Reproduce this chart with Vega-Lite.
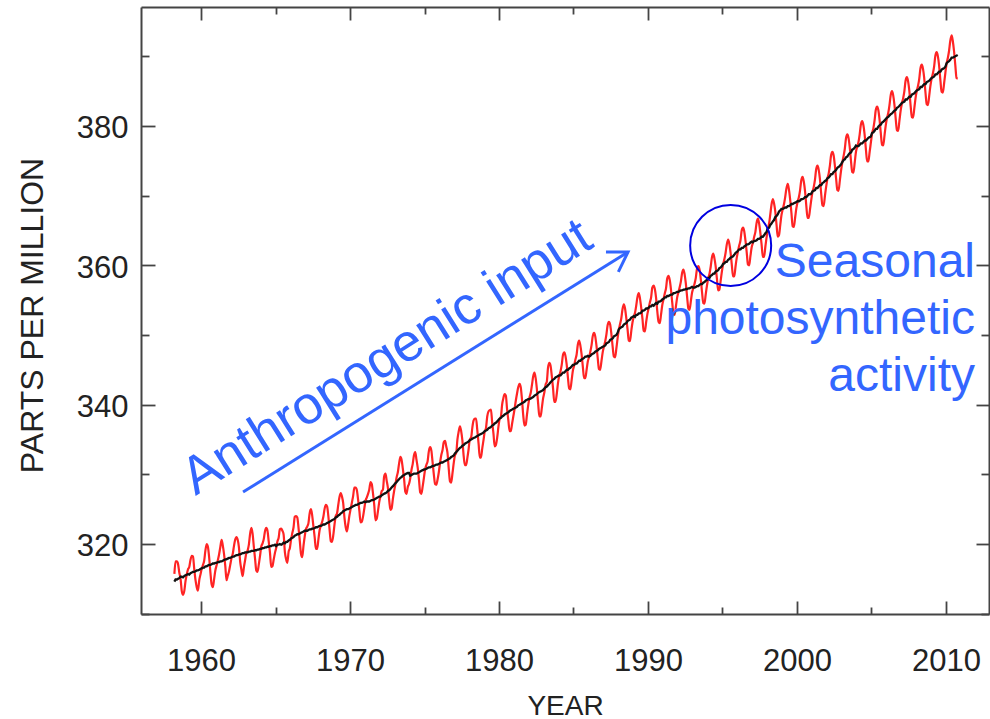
{
"$schema": "https://vega.github.io/schema/vega-lite/v6.json",
"width": 848, "height": 607,
"autosize": {"type": "none"},
"padding": {"left": 141, "top": 7, "right": 1, "bottom": 105},
"background": "white",
"config": {"font": "Liberation Sans", "view": {"stroke": null}, "axis": {"grid": false}},
"datasets": {
"co2": [
{"t":1958.21,"v":315.7,"d":314.6},{"t":1958.29,"v":317.5,"d":314.9},{"t":1958.38,"v":317.5,"d":314.9},{"t":1958.46,"v":317.1,"d":315.0},{"t":1958.54,"v":315.9,"d":315.1},{"t":1958.63,"v":314.9,"d":315.3},{"t":1958.71,"v":313.2,"d":315.3},{"t":1958.79,"v":312.7,"d":315.2},{"t":1958.88,"v":313.3,"d":315.4},{"t":1958.96,"v":314.7,"d":315.5},
{"t":1959.04,"v":315.6,"d":315.6},{"t":1959.13,"v":316.4,"d":315.7},{"t":1959.21,"v":316.7,"d":315.6},{"t":1959.29,"v":317.7,"d":315.8},{"t":1959.38,"v":318.3,"d":315.9},{"t":1959.46,"v":318.2,"d":316.0},{"t":1959.54,"v":316.5,"d":316.0},{"t":1959.63,"v":314.8,"d":316.1},{"t":1959.71,"v":313.8,"d":316.2},{"t":1959.79,"v":313.3,"d":316.2},{"t":1959.88,"v":314.8,"d":316.3},{"t":1959.96,"v":315.6,"d":316.4},
{"t":1960.04,"v":316.4,"d":316.5},{"t":1960.13,"v":317.0,"d":316.6},{"t":1960.21,"v":317.6,"d":316.6},{"t":1960.29,"v":319.0,"d":316.8},{"t":1960.38,"v":320.0,"d":316.8},{"t":1960.46,"v":319.6,"d":316.9},{"t":1960.54,"v":318.2,"d":317.0},{"t":1960.63,"v":315.9,"d":317.0},{"t":1960.71,"v":314.2,"d":317.1},{"t":1960.79,"v":313.8,"d":317.2},{"t":1960.88,"v":315.0,"d":317.2},{"t":1960.96,"v":316.2,"d":317.3},
{"t":1961.04,"v":316.9,"d":317.3},{"t":1961.13,"v":317.7,"d":317.4},{"t":1961.21,"v":318.5,"d":317.4},{"t":1961.29,"v":319.5,"d":317.5},{"t":1961.38,"v":320.6,"d":317.5},{"t":1961.46,"v":319.8,"d":317.6},{"t":1961.54,"v":318.6,"d":317.7},{"t":1961.63,"v":316.8,"d":317.8},{"t":1961.71,"v":314.8,"d":317.8},{"t":1961.79,"v":315.4,"d":317.9},{"t":1961.88,"v":316.1,"d":318.0},{"t":1961.96,"v":317.0,"d":318.0},
{"t":1962.04,"v":317.9,"d":318.1},{"t":1962.13,"v":318.6,"d":318.2},{"t":1962.21,"v":319.7,"d":318.2},{"t":1962.29,"v":320.6,"d":318.3},{"t":1962.38,"v":321.0,"d":318.4},{"t":1962.46,"v":320.6,"d":318.4},{"t":1962.54,"v":319.6,"d":318.5},{"t":1962.63,"v":317.4,"d":318.5},{"t":1962.71,"v":316.3,"d":318.6},{"t":1962.79,"v":315.4,"d":318.7},{"t":1962.88,"v":316.7,"d":318.7},{"t":1962.96,"v":317.7,"d":318.8},
{"t":1963.04,"v":318.7,"d":318.8},{"t":1963.13,"v":319.1,"d":318.8},{"t":1963.21,"v":319.9,"d":318.9},{"t":1963.29,"v":321.4,"d":318.9},{"t":1963.38,"v":322.3,"d":319.0},{"t":1963.46,"v":321.5,"d":319.0},{"t":1963.54,"v":319.7,"d":319.0},{"t":1963.63,"v":317.8,"d":319.1},{"t":1963.71,"v":316.2,"d":319.1},{"t":1963.79,"v":316.0,"d":319.2},{"t":1963.88,"v":317.1,"d":319.2},{"t":1963.96,"v":318.3,"d":319.3},
{"t":1964.04,"v":319.6,"d":319.3},{"t":1964.13,"v":320.1,"d":319.4},{"t":1964.21,"v":320.7,"d":319.4},{"t":1964.29,"v":321.8,"d":319.5},{"t":1964.38,"v":322.3,"d":319.5},{"t":1964.46,"v":321.9,"d":319.6},{"t":1964.54,"v":320.4,"d":319.6},{"t":1964.63,"v":318.7,"d":319.7},{"t":1964.71,"v":316.7,"d":319.7},{"t":1964.79,"v":316.8,"d":319.8},{"t":1964.88,"v":317.8,"d":319.8},{"t":1964.96,"v":318.7,"d":319.9},
{"t":1965.04,"v":319.4,"d":319.7},{"t":1965.13,"v":320.4,"d":319.9},{"t":1965.21,"v":320.9,"d":319.9},{"t":1965.29,"v":322.1,"d":320.0},{"t":1965.38,"v":322.2,"d":319.9},{"t":1965.46,"v":321.9,"d":320.0},{"t":1965.54,"v":321.4,"d":320.2},{"t":1965.63,"v":318.8,"d":320.1},{"t":1965.71,"v":317.8,"d":320.3},{"t":1965.79,"v":317.3,"d":320.3},{"t":1965.88,"v":318.9,"d":320.5},{"t":1965.96,"v":319.4,"d":320.6},
{"t":1966.04,"v":320.6,"d":320.8},{"t":1966.13,"v":321.6,"d":320.9},{"t":1966.21,"v":322.4,"d":321.0},{"t":1966.29,"v":323.9,"d":321.2},{"t":1966.38,"v":324.0,"d":321.3},{"t":1966.46,"v":323.8,"d":321.4},{"t":1966.54,"v":322.4,"d":321.4},{"t":1966.63,"v":320.4,"d":321.5},{"t":1966.71,"v":318.6,"d":321.6},{"t":1966.79,"v":318.1,"d":321.7},{"t":1966.88,"v":319.8,"d":321.8},{"t":1966.96,"v":321.1,"d":321.9},
{"t":1967.04,"v":322.1,"d":321.9},{"t":1967.13,"v":322.5,"d":321.9},{"t":1967.21,"v":323.0,"d":322.0},{"t":1967.29,"v":324.4,"d":322.1},{"t":1967.38,"v":325.0,"d":322.1},{"t":1967.46,"v":324.1,"d":322.2},{"t":1967.54,"v":322.6,"d":322.2},{"t":1967.63,"v":320.9,"d":322.3},{"t":1967.71,"v":319.3,"d":322.4},{"t":1967.79,"v":319.3,"d":322.4},{"t":1967.88,"v":320.7,"d":322.5},{"t":1967.96,"v":322.0,"d":322.6},
{"t":1968.04,"v":322.6,"d":322.6},{"t":1968.13,"v":323.2,"d":322.7},{"t":1968.21,"v":323.9,"d":322.8},{"t":1968.29,"v":325.0,"d":322.8},{"t":1968.38,"v":325.6,"d":322.9},{"t":1968.46,"v":325.4,"d":323.0},{"t":1968.54,"v":324.1,"d":323.1},{"t":1968.63,"v":322.0,"d":323.2},{"t":1968.71,"v":320.4,"d":323.3},{"t":1968.79,"v":320.3,"d":323.4},{"t":1968.88,"v":321.3,"d":323.5},{"t":1968.96,"v":322.8,"d":323.6},
{"t":1969.04,"v":324.0,"d":323.8},{"t":1969.13,"v":324.4,"d":323.9},{"t":1969.21,"v":325.6,"d":324.1},{"t":1969.29,"v":326.7,"d":324.2},{"t":1969.38,"v":327.3,"d":324.4},{"t":1969.46,"v":326.8,"d":324.5},{"t":1969.54,"v":325.9,"d":324.7},{"t":1969.63,"v":323.7,"d":324.8},{"t":1969.71,"v":322.4,"d":324.9},{"t":1969.79,"v":321.8,"d":325.0},{"t":1969.88,"v":322.9,"d":325.0},{"t":1969.96,"v":324.1,"d":325.1},
{"t":1970.04,"v":325.0,"d":325.2},{"t":1970.13,"v":326.0,"d":325.3},{"t":1970.21,"v":326.9,"d":325.4},{"t":1970.29,"v":328.1,"d":325.5},{"t":1970.38,"v":328.1,"d":325.6},{"t":1970.46,"v":327.7,"d":325.6},{"t":1970.54,"v":326.4,"d":325.7},{"t":1970.63,"v":324.7,"d":325.8},{"t":1970.71,"v":323.1,"d":325.9},{"t":1970.79,"v":323.2,"d":325.9},{"t":1970.88,"v":324.0,"d":326.0},{"t":1970.96,"v":325.1,"d":326.1},
{"t":1971.04,"v":326.2,"d":326.0},{"t":1971.13,"v":326.7,"d":326.1},{"t":1971.21,"v":327.2,"d":326.1},{"t":1971.29,"v":327.8,"d":326.1},{"t":1971.38,"v":328.9,"d":326.2},{"t":1971.46,"v":328.6,"d":326.3},{"t":1971.54,"v":327.3,"d":326.3},{"t":1971.63,"v":325.5,"d":326.4},{"t":1971.71,"v":323.4,"d":326.5},{"t":1971.79,"v":323.6,"d":326.6},{"t":1971.88,"v":324.8,"d":326.7},{"t":1971.96,"v":326.0,"d":326.8},
{"t":1972.04,"v":326.8,"d":326.8},{"t":1972.13,"v":327.6,"d":327.0},{"t":1972.21,"v":327.8,"d":327.1},{"t":1972.29,"v":329.7,"d":327.2},{"t":1972.38,"v":330.1,"d":327.3},{"t":1972.46,"v":329.1,"d":327.4},{"t":1972.54,"v":328.1,"d":327.6},{"t":1972.63,"v":326.3,"d":327.7},{"t":1972.71,"v":324.9,"d":327.9},{"t":1972.79,"v":325.1,"d":328.1},{"t":1972.88,"v":326.5,"d":328.3},{"t":1972.96,"v":327.6,"d":328.5},
{"t":1973.04,"v":328.5,"d":328.7},{"t":1973.13,"v":329.6,"d":328.9},{"t":1973.21,"v":330.3,"d":329.1},{"t":1973.29,"v":331.5,"d":329.3},{"t":1973.38,"v":332.5,"d":329.5},{"t":1973.46,"v":332.1,"d":329.6},{"t":1973.54,"v":330.9,"d":329.8},{"t":1973.63,"v":329.3,"d":329.9},{"t":1973.71,"v":327.5,"d":330.0},{"t":1973.79,"v":327.2,"d":330.1},{"t":1973.88,"v":328.2,"d":330.2},{"t":1973.96,"v":328.6,"d":330.2},
{"t":1974.04,"v":329.4,"d":329.8},{"t":1974.13,"v":330.7,"d":329.9},{"t":1974.21,"v":331.5,"d":330.0},{"t":1974.29,"v":332.7,"d":330.1},{"t":1974.38,"v":333.2,"d":330.1},{"t":1974.46,"v":332.1,"d":330.1},{"t":1974.54,"v":331.0,"d":330.2},{"t":1974.63,"v":329.2,"d":330.3},{"t":1974.71,"v":327.4,"d":330.4},{"t":1974.79,"v":327.2,"d":330.5},{"t":1974.88,"v":328.3,"d":330.6},{"t":1974.96,"v":329.5,"d":330.7},
{"t":1975.04,"v":330.7,"d":330.7},{"t":1975.13,"v":331.4,"d":330.8},{"t":1975.21,"v":331.9,"d":330.9},{"t":1975.29,"v":333.3,"d":331.0},{"t":1975.38,"v":333.9,"d":331.0},{"t":1975.46,"v":333.4,"d":331.1},{"t":1975.54,"v":331.8,"d":331.2},{"t":1975.63,"v":329.9,"d":331.2},{"t":1975.71,"v":328.6,"d":331.3},{"t":1975.79,"v":328.5,"d":331.4},{"t":1975.88,"v":329.3,"d":331.4},{"t":1975.96,"v":330.3,"d":331.5},
{"t":1976.04,"v":331.6,"d":331.6},{"t":1976.13,"v":332.8,"d":331.7},{"t":1976.21,"v":333.5,"d":331.7},{"t":1976.29,"v":334.6,"d":331.8},{"t":1976.38,"v":334.8,"d":331.9},{"t":1976.46,"v":334.0,"d":332.0},{"t":1976.54,"v":333.1,"d":332.1},{"t":1976.63,"v":330.7,"d":332.2},{"t":1976.71,"v":329.0,"d":332.3},{"t":1976.79,"v":328.8,"d":332.5},{"t":1976.88,"v":330.2,"d":332.6},{"t":1976.96,"v":331.6,"d":332.7},
{"t":1977.04,"v":332.7,"d":333.0},{"t":1977.13,"v":333.1,"d":333.2},{"t":1977.21,"v":335.0,"d":333.4},{"t":1977.29,"v":336.1,"d":333.6},{"t":1977.38,"v":336.9,"d":333.8},{"t":1977.46,"v":336.2,"d":333.9},{"t":1977.54,"v":334.9,"d":334.1},{"t":1977.63,"v":332.6,"d":334.2},{"t":1977.71,"v":331.3,"d":334.4},{"t":1977.79,"v":331.3,"d":334.5},{"t":1977.88,"v":332.4,"d":334.6},{"t":1977.96,"v":333.6,"d":334.7},
{"t":1978.04,"v":335.0,"d":334.9},{"t":1978.13,"v":335.3,"d":335.0},{"t":1978.21,"v":336.7,"d":335.1},{"t":1978.29,"v":337.7,"d":335.2},{"t":1978.38,"v":338.0,"d":335.3},{"t":1978.46,"v":338.0,"d":335.4},{"t":1978.54,"v":336.4,"d":335.5},{"t":1978.63,"v":334.4,"d":335.6},{"t":1978.71,"v":332.4,"d":335.7},{"t":1978.79,"v":332.4,"d":335.8},{"t":1978.88,"v":333.8,"d":335.9},{"t":1978.96,"v":334.9,"d":336.0},
{"t":1979.04,"v":336.1,"d":336.2},{"t":1979.13,"v":336.7,"d":336.3},{"t":1979.21,"v":338.3,"d":336.4},{"t":1979.29,"v":339.0,"d":336.6},{"t":1979.38,"v":339.2,"d":336.7},{"t":1979.46,"v":339.3,"d":336.8},{"t":1979.54,"v":337.5,"d":337.0},{"t":1979.63,"v":335.8,"d":337.1},{"t":1979.71,"v":334.0,"d":337.3},{"t":1979.79,"v":334.2,"d":337.4},{"t":1979.88,"v":335.3,"d":337.6},{"t":1979.96,"v":336.8,"d":337.8},
{"t":1980.04,"v":337.9,"d":338.0},{"t":1980.13,"v":338.3,"d":338.1},{"t":1980.21,"v":340.0,"d":338.3},{"t":1980.29,"v":340.9,"d":338.4},{"t":1980.38,"v":341.5,"d":338.6},{"t":1980.46,"v":341.3,"d":338.7},{"t":1980.54,"v":339.4,"d":338.8},{"t":1980.63,"v":337.7,"d":338.9},{"t":1980.71,"v":336.2,"d":339.1},{"t":1980.79,"v":336.2,"d":339.2},{"t":1980.88,"v":337.3,"d":339.3},{"t":1980.96,"v":338.3,"d":339.4},
{"t":1981.04,"v":339.3,"d":339.5},{"t":1981.13,"v":340.6,"d":339.6},{"t":1981.21,"v":341.6,"d":339.7},{"t":1981.29,"v":342.5,"d":339.9},{"t":1981.38,"v":343.0,"d":340.0},{"t":1981.46,"v":342.5,"d":340.1},{"t":1981.54,"v":340.8,"d":340.2},{"t":1981.63,"v":338.4,"d":340.3},{"t":1981.71,"v":337.0,"d":340.4},{"t":1981.79,"v":337.1,"d":340.6},{"t":1981.88,"v":338.6,"d":340.7},{"t":1981.96,"v":339.9,"d":340.8},
{"t":1982.04,"v":341.0,"d":340.8},{"t":1982.13,"v":341.7,"d":340.9},{"t":1982.21,"v":342.8,"d":341.0},{"t":1982.29,"v":344.0,"d":341.1},{"t":1982.38,"v":344.6,"d":341.3},{"t":1982.46,"v":343.8,"d":341.4},{"t":1982.54,"v":342.3,"d":341.5},{"t":1982.63,"v":340.1,"d":341.7},{"t":1982.71,"v":338.3,"d":341.8},{"t":1982.79,"v":338.3,"d":341.9},{"t":1982.88,"v":339.6,"d":342.0},{"t":1982.96,"v":340.9,"d":342.1},
{"t":1983.04,"v":341.7,"d":342.3},{"t":1983.13,"v":342.9,"d":342.5},{"t":1983.21,"v":343.3,"d":342.6},{"t":1983.29,"v":345.3,"d":342.8},{"t":1983.38,"v":346.0,"d":343.0},{"t":1983.46,"v":345.6,"d":343.2},{"t":1983.54,"v":344.2,"d":343.4},{"t":1983.63,"v":342.3,"d":343.6},{"t":1983.71,"v":340.4,"d":343.7},{"t":1983.79,"v":340.4,"d":343.9},{"t":1983.88,"v":341.6,"d":344.0},{"t":1983.96,"v":343.1,"d":344.1},
{"t":1984.04,"v":344.1,"d":344.2},{"t":1984.13,"v":344.8,"d":344.2},{"t":1984.21,"v":345.7,"d":344.4},{"t":1984.29,"v":347.1,"d":344.6},{"t":1984.38,"v":347.5,"d":344.6},{"t":1984.46,"v":347.0,"d":344.8},{"t":1984.54,"v":345.8,"d":345.0},{"t":1984.63,"v":343.8,"d":345.0},{"t":1984.71,"v":342.3,"d":345.2},{"t":1984.79,"v":342.2,"d":345.3},{"t":1984.88,"v":343.6,"d":345.5},{"t":1984.96,"v":344.9,"d":345.7},
{"t":1985.04,"v":345.6,"d":345.7},{"t":1985.13,"v":346.5,"d":345.9},{"t":1985.21,"v":347.2,"d":345.9},{"t":1985.29,"v":348.6,"d":346.1},{"t":1985.38,"v":349.2,"d":346.3},{"t":1985.46,"v":348.5,"d":346.3},{"t":1985.54,"v":347.3,"d":346.5},{"t":1985.63,"v":345.4,"d":346.6},{"t":1985.71,"v":343.8,"d":346.7},{"t":1985.79,"v":343.8,"d":346.9},{"t":1985.88,"v":345.0,"d":346.9},{"t":1985.96,"v":346.2,"d":347.0},
{"t":1986.04,"v":346.8,"d":346.9},{"t":1986.13,"v":347.6,"d":347.0},{"t":1986.21,"v":348.5,"d":347.2},{"t":1986.29,"v":349.8,"d":347.3},{"t":1986.38,"v":350.3,"d":347.4},{"t":1986.46,"v":349.8,"d":347.6},{"t":1986.54,"v":348.5,"d":347.7},{"t":1986.63,"v":346.6,"d":347.8},{"t":1986.71,"v":345.1,"d":348.0},{"t":1986.79,"v":345.0,"d":348.1},{"t":1986.88,"v":346.3,"d":348.2},{"t":1986.96,"v":347.5,"d":348.3},
{"t":1987.04,"v":348.3,"d":348.4},{"t":1987.13,"v":349.1,"d":348.5},{"t":1987.21,"v":350.1,"d":348.8},{"t":1987.29,"v":351.4,"d":348.9},{"t":1987.38,"v":351.9,"d":349.0},{"t":1987.46,"v":351.5,"d":349.3},{"t":1987.54,"v":350.2,"d":349.4},{"t":1987.63,"v":348.3,"d":349.5},{"t":1987.71,"v":346.9,"d":349.8},{"t":1987.79,"v":346.8,"d":349.9},{"t":1987.88,"v":348.1,"d":350.0},{"t":1987.96,"v":349.5,"d":350.3},
{"t":1988.04,"v":350.7,"d":350.8},{"t":1988.13,"v":351.6,"d":351.0},{"t":1988.21,"v":352.4,"d":351.1},{"t":1988.29,"v":353.7,"d":351.2},{"t":1988.38,"v":354.4,"d":351.5},{"t":1988.46,"v":353.8,"d":351.6},{"t":1988.54,"v":352.5,"d":351.7},{"t":1988.63,"v":350.8,"d":352.0},{"t":1988.71,"v":349.2,"d":352.1},{"t":1988.79,"v":349.1,"d":352.2},{"t":1988.88,"v":350.6,"d":352.5},{"t":1988.96,"v":351.8,"d":352.6},
{"t":1989.04,"v":352.6,"d":352.7},{"t":1989.13,"v":353.2,"d":352.6},{"t":1989.21,"v":354.2,"d":352.9},{"t":1989.29,"v":355.4,"d":352.9},{"t":1989.38,"v":356.0,"d":353.1},{"t":1989.46,"v":355.3,"d":353.1},{"t":1989.54,"v":354.0,"d":353.2},{"t":1989.63,"v":352.3,"d":353.5},{"t":1989.71,"v":350.6,"d":353.5},{"t":1989.79,"v":350.5,"d":353.6},{"t":1989.88,"v":351.9,"d":353.8},{"t":1989.96,"v":353.0,"d":353.8},
{"t":1990.04,"v":353.8,"d":353.9},{"t":1990.13,"v":354.7,"d":354.1},{"t":1990.21,"v":355.4,"d":354.1},{"t":1990.29,"v":356.8,"d":354.3},{"t":1990.38,"v":357.1,"d":354.2},{"t":1990.46,"v":356.6,"d":354.4},{"t":1990.54,"v":355.4,"d":354.6},{"t":1990.63,"v":353.3,"d":354.5},{"t":1990.71,"v":351.9,"d":354.8},{"t":1990.79,"v":351.7,"d":354.8},{"t":1990.88,"v":353.0,"d":354.9},{"t":1990.96,"v":354.3,"d":355.1},
{"t":1991.04,"v":355.1,"d":355.2},{"t":1991.13,"v":356.0,"d":355.4},{"t":1991.21,"v":356.7,"d":355.4},{"t":1991.29,"v":358.1,"d":355.6},{"t":1991.38,"v":358.5,"d":355.6},{"t":1991.46,"v":357.9,"d":355.7},{"t":1991.54,"v":356.6,"d":355.8},{"t":1991.63,"v":354.6,"d":355.8},{"t":1991.71,"v":353.1,"d":356.0},{"t":1991.79,"v":352.9,"d":356.0},{"t":1991.88,"v":354.2,"d":356.1},{"t":1991.96,"v":355.4,"d":356.2},
{"t":1992.04,"v":356.1,"d":356.2},{"t":1992.13,"v":356.9,"d":356.3},{"t":1992.21,"v":357.7,"d":356.4},{"t":1992.29,"v":358.9,"d":356.4},{"t":1992.38,"v":359.4,"d":356.5},{"t":1992.46,"v":358.7,"d":356.5},{"t":1992.54,"v":357.4,"d":356.6},{"t":1992.63,"v":355.4,"d":356.6},{"t":1992.71,"v":353.8,"d":356.7},{"t":1992.79,"v":353.6,"d":356.7},{"t":1992.88,"v":354.9,"d":356.8},{"t":1992.96,"v":356.1,"d":356.9},
{"t":1993.04,"v":356.7,"d":356.8},{"t":1993.13,"v":357.4,"d":356.8},{"t":1993.21,"v":358.2,"d":356.9},{"t":1993.29,"v":359.5,"d":357.0},{"t":1993.38,"v":359.9,"d":357.0},{"t":1993.46,"v":359.4,"d":357.2},{"t":1993.54,"v":358.1,"d":357.3},{"t":1993.63,"v":356.1,"d":357.3},{"t":1993.71,"v":354.6,"d":357.5},{"t":1993.79,"v":354.5,"d":357.6},{"t":1993.88,"v":355.9,"d":357.8},{"t":1993.96,"v":357.1,"d":357.9},
{"t":1994.04,"v":358.1,"d":358.2},{"t":1994.13,"v":358.8,"d":358.2},{"t":1994.21,"v":359.8,"d":358.5},{"t":1994.29,"v":361.1,"d":358.6},{"t":1994.38,"v":361.7,"d":358.8},{"t":1994.46,"v":361.0,"d":358.8},{"t":1994.54,"v":359.9,"d":359.1},{"t":1994.63,"v":358.0,"d":359.2},{"t":1994.71,"v":356.4,"d":359.3},{"t":1994.79,"v":356.5,"d":359.6},{"t":1994.88,"v":357.8,"d":359.7},{"t":1994.96,"v":359.1,"d":359.9},
{"t":1995.04,"v":360.1,"d":360.2},{"t":1995.13,"v":360.9,"d":360.3},{"t":1995.21,"v":361.8,"d":360.5},{"t":1995.29,"v":363.0,"d":360.5},{"t":1995.38,"v":363.7,"d":360.8},{"t":1995.46,"v":363.1,"d":360.9},{"t":1995.54,"v":361.9,"d":361.1},{"t":1995.63,"v":360.0,"d":361.2},{"t":1995.71,"v":358.4,"d":361.3},{"t":1995.79,"v":358.4,"d":361.5},{"t":1995.88,"v":359.9,"d":361.8},{"t":1995.96,"v":361.1,"d":361.9},
{"t":1996.04,"v":362.0,"d":362.1},{"t":1996.13,"v":362.9,"d":362.3},{"t":1996.21,"v":363.6,"d":362.3},{"t":1996.29,"v":365.0,"d":362.5},{"t":1996.38,"v":365.4,"d":362.5},{"t":1996.46,"v":364.9,"d":362.7},{"t":1996.54,"v":363.6,"d":362.8},{"t":1996.63,"v":361.8,"d":363.0},{"t":1996.71,"v":360.1,"d":363.0},{"t":1996.79,"v":360.0,"d":363.1},{"t":1996.88,"v":361.4,"d":363.3},{"t":1996.96,"v":362.6,"d":363.4},
{"t":1997.04,"v":363.2,"d":363.3},{"t":1997.13,"v":364.1,"d":363.5},{"t":1997.21,"v":364.8,"d":363.5},{"t":1997.29,"v":366.1,"d":363.6},{"t":1997.38,"v":366.7,"d":363.8},{"t":1997.46,"v":366.0,"d":363.8},{"t":1997.54,"v":364.7,"d":363.9},{"t":1997.63,"v":362.9,"d":364.1},{"t":1997.71,"v":361.2,"d":364.1},{"t":1997.79,"v":361.2,"d":364.3},{"t":1997.88,"v":362.7,"d":364.6},{"t":1997.96,"v":364.0,"d":364.8},
{"t":1998.04,"v":365.2,"d":365.3},{"t":1998.13,"v":366.0,"d":365.4},{"t":1998.21,"v":367.3,"d":365.8},{"t":1998.29,"v":368.7,"d":366.0},{"t":1998.38,"v":369.5,"d":366.3},{"t":1998.46,"v":368.9,"d":366.5},{"t":1998.54,"v":367.8,"d":366.9},{"t":1998.63,"v":365.8,"d":367.1},{"t":1998.71,"v":364.1,"d":367.3},{"t":1998.79,"v":364.3,"d":367.7},{"t":1998.88,"v":365.8,"d":367.9},{"t":1998.96,"v":367.2,"d":368.1},
{"t":1999.04,"v":368.0,"d":368.1},{"t":1999.13,"v":368.8,"d":368.2},{"t":1999.21,"v":369.8,"d":368.3},{"t":1999.29,"v":371.0,"d":368.3},{"t":1999.38,"v":371.7,"d":368.5},{"t":1999.46,"v":370.9,"d":368.5},{"t":1999.54,"v":369.5,"d":368.6},{"t":1999.63,"v":367.5,"d":368.8},{"t":1999.71,"v":365.6,"d":368.8},{"t":1999.79,"v":365.5,"d":368.9},{"t":1999.88,"v":366.9,"d":369.0},{"t":1999.96,"v":368.2,"d":369.1},
{"t":2000.04,"v":369.1,"d":369.2},{"t":2000.13,"v":369.8,"d":369.2},{"t":2000.21,"v":370.8,"d":369.3},{"t":2000.29,"v":372.2,"d":369.5},{"t":2000.38,"v":372.7,"d":369.5},{"t":2000.46,"v":372.0,"d":369.6},{"t":2000.54,"v":370.7,"d":369.8},{"t":2000.63,"v":368.5,"d":369.8},{"t":2000.71,"v":366.8,"d":370.0},{"t":2000.79,"v":366.8,"d":370.2},{"t":2000.88,"v":368.1,"d":370.2},{"t":2000.96,"v":369.4,"d":370.3},
{"t":2001.04,"v":370.5,"d":370.6},{"t":2001.13,"v":371.3,"d":370.7},{"t":2001.21,"v":372.3,"d":370.8},{"t":2001.29,"v":373.8,"d":371.1},{"t":2001.38,"v":374.3,"d":371.1},{"t":2001.46,"v":373.7,"d":371.3},{"t":2001.54,"v":372.4,"d":371.5},{"t":2001.63,"v":370.2,"d":371.5},{"t":2001.71,"v":368.6,"d":371.8},{"t":2001.79,"v":368.5,"d":371.9},{"t":2001.88,"v":370.0,"d":372.1},{"t":2001.96,"v":371.3,"d":372.2},
{"t":2002.04,"v":372.4,"d":372.5},{"t":2002.13,"v":373.2,"d":372.6},{"t":2002.21,"v":374.3,"d":372.8},{"t":2002.29,"v":375.8,"d":373.1},{"t":2002.38,"v":376.3,"d":373.1},{"t":2002.46,"v":375.8,"d":373.4},{"t":2002.54,"v":374.4,"d":373.5},{"t":2002.63,"v":372.4,"d":373.7},{"t":2002.71,"v":370.8,"d":374.0},{"t":2002.79,"v":370.7,"d":374.1},{"t":2002.88,"v":372.2,"d":374.3},{"t":2002.96,"v":373.6,"d":374.5},
{"t":2003.04,"v":374.7,"d":374.8},{"t":2003.13,"v":375.7,"d":375.1},{"t":2003.21,"v":376.7,"d":375.2},{"t":2003.29,"v":378.2,"d":375.5},{"t":2003.38,"v":378.8,"d":375.6},{"t":2003.46,"v":378.3,"d":375.9},{"t":2003.54,"v":377.0,"d":376.1},{"t":2003.63,"v":374.9,"d":376.2},{"t":2003.71,"v":373.4,"d":376.6},{"t":2003.79,"v":373.3,"d":376.7},{"t":2003.88,"v":374.8,"d":376.9},{"t":2003.96,"v":376.3,"d":377.2},
{"t":2004.04,"v":377.0,"d":377.1},{"t":2004.13,"v":377.7,"d":377.1},{"t":2004.21,"v":378.8,"d":377.3},{"t":2004.29,"v":380.2,"d":377.5},{"t":2004.38,"v":380.7,"d":377.5},{"t":2004.46,"v":380.1,"d":377.7},{"t":2004.54,"v":378.8,"d":377.9},{"t":2004.63,"v":376.6,"d":377.9},{"t":2004.71,"v":374.9,"d":378.1},{"t":2004.79,"v":374.9,"d":378.3},{"t":2004.88,"v":376.3,"d":378.4},{"t":2004.96,"v":377.6,"d":378.5},
{"t":2005.04,"v":378.9,"d":379.0},{"t":2005.13,"v":379.7,"d":379.1},{"t":2005.21,"v":380.8,"d":379.3},{"t":2005.29,"v":382.3,"d":379.6},{"t":2005.38,"v":382.8,"d":379.6},{"t":2005.46,"v":382.3,"d":379.9},{"t":2005.54,"v":381.0,"d":380.1},{"t":2005.63,"v":378.9,"d":380.2},{"t":2005.71,"v":377.3,"d":380.5},{"t":2005.79,"v":377.2,"d":380.6},{"t":2005.88,"v":378.7,"d":380.8},{"t":2005.96,"v":380.1,"d":381.0},
{"t":2006.04,"v":381.1,"d":381.2},{"t":2006.13,"v":381.9,"d":381.3},{"t":2006.21,"v":383.0,"d":381.5},{"t":2006.29,"v":384.4,"d":381.7},{"t":2006.38,"v":385.0,"d":381.8},{"t":2006.46,"v":384.4,"d":382.0},{"t":2006.54,"v":383.1,"d":382.2},{"t":2006.63,"v":381.0,"d":382.3},{"t":2006.71,"v":379.4,"d":382.6},{"t":2006.79,"v":379.3,"d":382.7},{"t":2006.88,"v":380.8,"d":382.9},{"t":2006.96,"v":382.2,"d":383.1},
{"t":2007.04,"v":383.2,"d":383.3},{"t":2007.13,"v":384.0,"d":383.4},{"t":2007.21,"v":385.0,"d":383.5},{"t":2007.29,"v":386.5,"d":383.8},{"t":2007.38,"v":387.0,"d":383.8},{"t":2007.46,"v":386.4,"d":384.0},{"t":2007.54,"v":385.1,"d":384.2},{"t":2007.63,"v":382.9,"d":384.2},{"t":2007.71,"v":381.3,"d":384.5},{"t":2007.79,"v":381.2,"d":384.6},{"t":2007.88,"v":382.6,"d":384.7},{"t":2007.96,"v":384.0,"d":384.9},
{"t":2008.04,"v":385.0,"d":385.1},{"t":2008.13,"v":385.8,"d":385.2},{"t":2008.21,"v":386.8,"d":385.3},{"t":2008.29,"v":388.3,"d":385.6},{"t":2008.38,"v":388.8,"d":385.6},{"t":2008.46,"v":388.2,"d":385.8},{"t":2008.54,"v":386.9,"d":386.0},{"t":2008.63,"v":384.7,"d":386.0},{"t":2008.71,"v":383.1,"d":386.3},{"t":2008.79,"v":383.0,"d":386.4},{"t":2008.88,"v":384.4,"d":386.5},{"t":2008.96,"v":385.8,"d":386.7},
{"t":2009.04,"v":386.8,"d":386.9},{"t":2009.13,"v":387.6,"d":387.0},{"t":2009.21,"v":388.6,"d":387.1},{"t":2009.29,"v":390.1,"d":387.4},{"t":2009.38,"v":390.6,"d":387.4},{"t":2009.46,"v":390.0,"d":387.6},{"t":2009.54,"v":388.7,"d":387.8},{"t":2009.63,"v":386.5,"d":387.8},{"t":2009.71,"v":384.9,"d":388.1},{"t":2009.79,"v":384.8,"d":388.2},{"t":2009.88,"v":386.2,"d":388.3},{"t":2009.96,"v":387.6,"d":388.5},
{"t":2010.04,"v":388.9,"d":389.0},{"t":2010.13,"v":389.8,"d":389.2},{"t":2010.21,"v":390.8,"d":389.3},{"t":2010.29,"v":392.2,"d":389.5},{"t":2010.38,"v":393.0,"d":389.8},{"t":2010.46,"v":392.2,"d":389.8},{"t":2010.54,"v":390.8,"d":389.9},{"t":2010.63,"v":388.7,"d":390.0},{"t":2010.71,"v":386.9,"d":390.1},{"t":2010.79,"v":386.8,"d":390.2}
],
"arrow": [{"x1": 1962.82, "y1": 327.46, "x2": 1988.66, "y2": 361.91}],
"anthro": [{"x": 1973.05, "y": 344.83, "label": "Anthropogenic input"}],
"season": [{"x": 2011.95, "y": 358.32, "label": "Seasonal\nphotosynthetic\nactivity"}],
"circle": [{"x": 1995.55, "y": 362.85}]
},
"resolve": {"axis": {"x": "independent", "y": "independent"}},
"layer": [
{
"data": {"name": "co2"},
"mark": {"type": "line", "color": "#ff2424", "strokeWidth": 2.2, "interpolate": "monotone"},
"encoding": {
"x": {"field": "t", "type": "quantitative", "scale": {"domain": [1955.97, 2012.89], "nice": false, "zero": false},
"axis": {"orient": "bottom", "values": [1960,1965,1970,1975,1980,1985,1990,1995,2000,2005,2010], "format": "d",
"labelExpr": "datum.value % 10 === 0 ? datum.label : ''",
"tickSize": {"condition": {"test": "datum.value % 10 === 0", "value": -13}, "value": -7},
"labelPadding": 69, "labelBaseline": "alphabetic", "labelFontSize": 31, "labelColor": "#222", "labelFlush": false, "labelOverlap": false,
"domainColor": "#444", "domainWidth": 2, "tickColor": "#444", "tickWidth": 1.8,
"title": "YEAR", "titleFontSize": 28, "titleFontWeight": "normal", "titleColor": "#222", "titleBaseline": "alphabetic", "titleAlign": "center", "titleX": 424, "titleY": 100}},
"y": {"field": "v", "type": "quantitative", "scale": {"domain": [309.95, 397.08], "nice": false, "zero": false},
"axis": {"orient": "left", "values": [310,320,330,340,350,360,370,380,390], "format": "d",
"labelExpr": "datum.value % 20 === 0 ? datum.label : ''",
"tickSize": {"condition": {"test": "datum.value % 20 === 0", "value": -14}, "value": -8},
"labelPadding": 27, "labelBaseline": "middle", "labelOffset": 3, "labelFontSize": 31, "labelColor": "#222", "labelFlush": false, "labelOverlap": false,
"domainColor": "#444", "domainWidth": 2, "tickColor": "#444", "tickWidth": 1.8,
"title": "PARTS PER MILLION", "titleFontSize": 32, "titleFontWeight": "normal", "titleColor": "#222", "titleAngle": 270, "titleBaseline": "alphabetic", "titleAlign": "center", "titleX": -99, "titleY": 308}}
}
},
{
"data": {"name": "co2"},
"mark": {"type": "line", "color": "#111111", "strokeWidth": 2.3, "interpolate": "linear"},
"encoding": {
"x": {"field": "t", "type": "quantitative", "scale": {"domain": [1955.97, 2012.89], "nice": false, "zero": false},
"axis": {"orient": "top", "values": [1960,1965,1970,1975,1980,1985,1990,1995,2000,2005,2010], "labels": false, "title": null,
"tickSize": {"condition": {"test": "datum.value % 10 === 0", "value": -13}, "value": -7},
"domainColor": "#444", "domainWidth": 2, "tickColor": "#444", "tickWidth": 1.8}},
"y": {"field": "d", "type": "quantitative", "scale": {"domain": [309.95, 397.08], "nice": false, "zero": false},
"axis": {"orient": "right", "values": [310,320,330,340,350,360,370,380,390], "labels": false, "title": null,
"tickSize": {"condition": {"test": "datum.value % 20 === 0", "value": -13}, "value": -8},
"domainColor": "#444", "domainWidth": 2, "tickColor": "#444", "tickWidth": 1.8}}
}
},
{
"data": {"name": "arrow"},
"mark": {"type": "rule", "color": "#3366ff", "strokeWidth": 3},
"encoding": {
"x": {"field": "x1", "type": "quantitative", "axis": null},
"y": {"field": "y1", "type": "quantitative", "axis": null},
"x2": {"field": "x2"},
"y2": {"field": "y2"}
}
},
{
"data": {"name": "arrow"},
"mark": {"type": "point", "shape": "M-0.85,-0.53L0,0L-0.85,0.53", "filled": false, "color": "#3366ff", "strokeWidth": 3, "size": 1936, "angle": 328, "opacity": 1},
"encoding": {
"x": {"field": "x2", "type": "quantitative", "axis": null},
"y": {"field": "y2", "type": "quantitative", "axis": null}
}
},
{
"data": {"name": "anthro"},
"mark": {"type": "text", "font": "Liberation Sans", "fontSize": 53, "color": "#3366ff", "align": "center", "baseline": "alphabetic", "angle": 328},
"encoding": {
"x": {"field": "x", "type": "quantitative", "axis": null},
"y": {"field": "y", "type": "quantitative", "axis": null},
"text": {"field": "label", "type": "nominal"}
}
},
{
"data": {"name": "season"},
"mark": {"type": "text", "font": "Liberation Sans", "fontSize": 48, "color": "#3366ff", "align": "right", "baseline": "alphabetic", "lineBreak": "\n", "lineHeight": 57},
"encoding": {
"x": {"field": "x", "type": "quantitative", "axis": null},
"y": {"field": "y", "type": "quantitative", "axis": null},
"text": {"field": "label", "type": "nominal"}
}
},
{
"data": {"name": "circle"},
"mark": {"type": "point", "shape": "circle", "filled": false, "color": "#0000e0", "strokeWidth": 2, "size": 6561, "opacity": 1},
"encoding": {
"x": {"field": "x", "type": "quantitative", "axis": null},
"y": {"field": "y", "type": "quantitative", "axis": null}
}
}
]
}
